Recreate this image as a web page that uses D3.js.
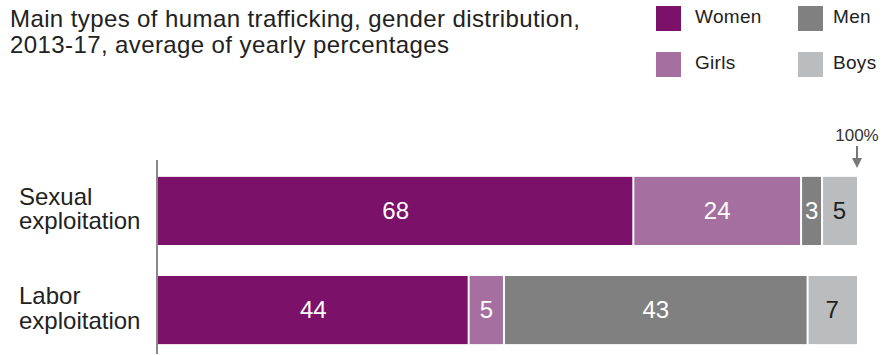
<!DOCTYPE html>
<html>
<head>
<meta charset="utf-8">
<script src="https://cdn.jsdelivr.net/npm/d3@7"></script>
<style>
  body { margin: 0; background: #fff; }
  text { font-family: "Liberation Sans", Arial, sans-serif; }
</style>
</head>
<body>
<div id="chart"></div>
<script>
const WIDTH = 886;
const HEIGHT = 355;

// data
const categories = ["Sexual exploitation", "Labor exploitation"];
const groups = ["Women", "Girls", "Men", "Boys"];
const women = [68, 44];
const girls = [24, 5];
const men = [3, 43];
const boys = [5, 7];

const colors = ["#7b1169", "#a5709f", "#808080", "#bbbcbe"];
const labelColors = ["#fff", "#fff", "#fff", "#222"];

const rows = categories.map((c, i) => ({
    category: c, Women: women[i], Girls: girls[i], Men: men[i], Boys: boys[i]
}));

const svg = d3.select('#chart')
    .append('svg')
    .attr('width', WIDTH)
    .attr('height', HEIGHT);

// title
svg.append('text')
    .attr('x', 10)
    .attr('y', 27)
    .attr('font-size', 24)
    .attr('letter-spacing', 0.4)
    .attr('fill', '#222')
    .selectAll('tspan')
    .data(["Main types of human trafficking, gender distribution,", "2013-17, average of yearly percentages"])
    .enter()
    .append('tspan')
    .attr('x', 10)
    .attr('dy', (d, i) => i === 0 ? 0 : 26)
    .text(d => d);

// legend, two columns
const legendPos = [[656, 6], [656, 52], [798, 6], [798, 52]];
const legend = svg.append('g')
    .selectAll('g')
    .data(groups)
    .enter()
    .append('g')
    .attr('transform', (d, i) => `translate(${legendPos[i][0]}, ${legendPos[i][1]})`);

legend.append('rect')
    .attr('width', 25)
    .attr('height', 25)
    .attr('fill', (d, i) => colors[i]);

legend.append('text')
    .attr('x', d => d === "Women" || d === "Girls" ? 39 : 35)
    .attr('y', 17)
    .attr('font-size', 19)
    .attr('letter-spacing', 0.3)
    .attr('fill', '#222')
    .text(d => d);

// scales
const x = d3.scaleLinear()
    .domain([0, 1])
    .range([158, 857]);

const y = d3.scaleBand()
    .domain(categories)
    .range([161, 360])
    .paddingInner(0.313)
    .paddingOuter(0.16);

// each bar is shown as a share of its own total
const stacked = d3.stack()
    .keys(groups)
    .offset(d3.stackOffsetExpand)(rows);

const layers = svg.append('g')
    .selectAll('g')
    .data(stacked)
    .enter()
    .append('g')
    .attr('fill', (d, i) => colors[i]);

layers.selectAll('rect')
    .data(d => d)
    .enter()
    .append('rect')
    .attr('x', d => x(d[0]) + (d[0] > 0 ? 1 : 0))
    .attr('y', d => y(d.data.category))
    .attr('width', d => x(d[1]) - x(d[0]) - (d[0] > 0 ? 1 : 0) - (d[1] < 0.999 ? 1 : 0))
    .attr('height', y.bandwidth());

layers.each(function (layer, li) {
    d3.select(this).selectAll('text')
        .data(layer)
        .enter()
        .append('text')
        .attr('x', d => (x(d[0]) + x(d[1])) / 2)
        .attr('y', d => y(d.data.category) + y.bandwidth() / 2 + 8)
        .attr('text-anchor', 'middle')
        .attr('font-size', 24)
        .attr('fill', labelColors[li])
        .text(d => d.data[layer.key]);
});

// category labels
svg.append('g')
    .selectAll('text')
    .data(categories)
    .enter()
    .append('text')
    .attr('x', 19)
    .attr('y', d => y(d) + 28)
    .attr('font-size', 24)
    .attr('fill', '#222')
    .selectAll('tspan')
    .data(d => d.split(' '))
    .enter()
    .append('tspan')
    .attr('x', 19)
    .attr('dy', (d, i) => i === 0 ? 0 : 24.5)
    .text(d => d);

// vertical baseline
svg.append('line')
    .attr('x1', 157)
    .attr('x2', 157)
    .attr('y1', 160)
    .attr('y2', 354)
    .attr('stroke', '#888')
    .attr('stroke-width', 2);

// 100% marker
svg.append('text')
    .attr('x', x(1))
    .attr('y', 141)
    .attr('text-anchor', 'middle')
    .attr('font-size', 17)
    .attr('fill', '#333')
    .text('100%');

svg.append('line')
    .attr('x1', x(1))
    .attr('x2', x(1))
    .attr('y1', 146)
    .attr('y2', 160)
    .attr('stroke', '#777')
    .attr('stroke-width', 2);

svg.append('path')
    .attr('d', `M${x(1) - 5},158 L${x(1) + 5},158 L${x(1)},168 Z`)
    .attr('fill', '#777');
</script>
</body>
</html>
